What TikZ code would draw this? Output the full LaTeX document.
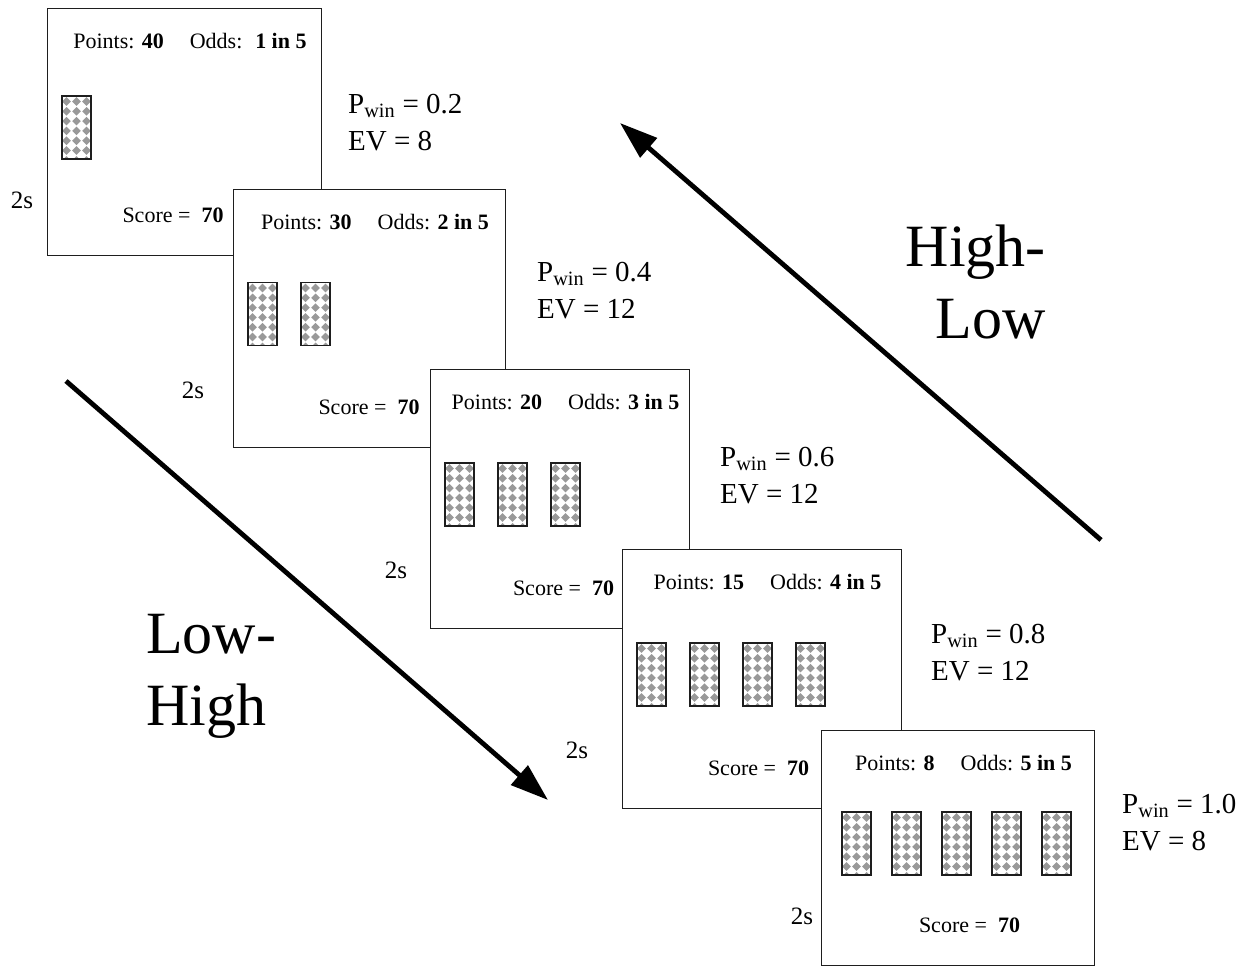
\documentclass[tikz,border=0pt]{standalone}
\usepackage{fontspec}
\setmainfont{Liberation Serif}
\usetikzlibrary{arrows.meta, positioning, calc}
\definecolor{screenline}{HTML}{1E1E1E}
\definecolor{dotgray}{HTML}{999999}
\newcommand{\panelfont}{\fontsize{22}{26}\selectfont}
\newcommand{\infofont}{\fontsize{29}{35}\selectfont}
\newcommand{\timefont}{\fontsize{25}{30}\selectfont}
\newcommand{\bigfont}{\fontsize{60}{72}\selectfont}
% one card with the diamond texture
\newcommand{\card}[2]{%
  \begin{scope}
    \clip (#1,#2) rectangle ++(29,63);
    \foreach \i in {-1,...,3} \foreach \j in {-1,...,7}
      \fill[dotgray] ({#1+4.5+10*\i},{#2+5.5+9.8*\j}) ++(-4.3,0) -- ++(4.3,4.3)
        -- ++(4.3,-4.3) -- ++(-4.3,-4.3) -- cycle;
  \end{scope}
  \draw[screenline, line width=1.3pt] (#1,#2) rectangle ++(29,63);}
% name, x, y, width, height, points, odds, cards, shift of the score
\newcommand{\screen}[9]{%
  \node[draw=screenline, line width=1.3pt, fill=white, minimum width=#4pt,
        minimum height=#5pt, anchor=north west, inner sep=0pt] (#1) at (#2,#3) {};
  \node[font=\panelfont, inner sep=0pt] (#1top) at ($(#1.north west)+({0.5*#4+6},33)$)
    {Points: \textbf{#6}\hspace{26pt}Odds: \textbf{#7}};
  \node[font=\panelfont, inner sep=0pt] (#1score) at ($(#1.south west)+({0.5*#4+#9},-41)$)
    {Score =\ \ \textbf{70}};
  \pgfmathsetmacro{\cstart}{#8==5 ? 21 : 15}
  \pgfmathsetmacro{\cstep}{#8==5 ? 50 : 53}
  \foreach \k in {1,...,#8} {
    \pgfmathsetmacro{\cx}{#2+\cstart+\cstep*(\k-1)}
    \pgfmathsetmacro{\cy}{#3+#5/2-35.5}
    \card{\cx}{\cy}}}
% name, x, y (baseline of first line), pwin, ev
\newcommand{\winlabel}[5]{%
  \node[font=\infofont, anchor=base west, inner sep=0pt] (#1) at (#2,#3)
    {P\textsubscript{win} = #4};
  \node[font=\infofont, anchor=base west, inner sep=0pt] (#1ev) at (#2,{#3+37})
    {EV = #5};}

\begin{document}
\begin{tikzpicture}[x=1pt, y=-1pt,
    bigarrow/.style={-{Triangle[length=38pt, width=25pt]}, line width=4.8pt}]
  \fill[white] (0,0) rectangle (1249,966);
  \useasboundingbox (0,0) rectangle (1249,966);

  \screen{s1}{47}{8}{274}{247}{40}{\ 1 in 5}{1}{-11}
  \screen{s2}{233}{189}{272}{258}{30}{2 in 5}{2}{0}
  \screen{s3}{430}{369}{259}{259}{20}{3 in 5}{3}{4}
  \screen{s4}{622}{549}{279}{259}{15}{4 in 5}{4}{-3}
  \screen{s5}{821}{730}{273}{235}{8}{5 in 5}{5}{12}

  \winlabel{w1}{348}{113}{0.2}{8}
  \winlabel{w2}{537}{281}{0.4}{12}
  \winlabel{w3}{720}{466}{0.6}{12}
  \winlabel{w4}{931}{643}{0.8}{12}
  \winlabel{w5}{1122}{813}{1.0}{8}

  \node[font=\timefont] (t1) at (22,200) {2s};
  \node[font=\timefont] (t2) at (193,390) {2s};
  \node[font=\timefont] (t3) at (396,570) {2s};
  \node[font=\timefont] (t4) at (577,750) {2s};
  \node[font=\timefont] (t5) at (802,916) {2s};

  \coordinate (lhstart) at (66,381);
  \coordinate (lhend) at (548,800);
  \coordinate (hlstart) at (1101,540);
  \coordinate (hlend) at (620,123);
  \draw[bigarrow] (lhstart) -- (lhend);
  \draw[bigarrow] (hlstart) -- (hlend);

  \node[font=\bigfont, align=left, anchor=west, inner sep=0pt] (lowhigh) at (146,676) {Low-\\High};
  \node[font=\bigfont, align=right, anchor=east, inner sep=0pt] (highlow) at (1046,282) {High-\\Low};
\end{tikzpicture}
\end{document}
